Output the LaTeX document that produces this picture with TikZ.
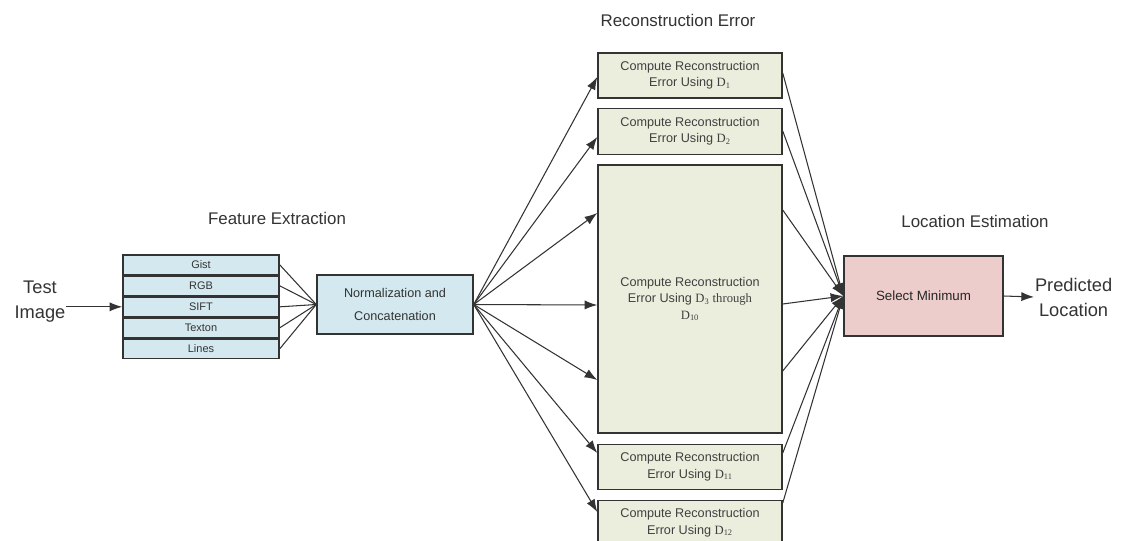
\documentclass[tikz,border=0pt]{standalone}
\usepackage{fontspec}
\setmainfont{Liberation Sans}
\newfontfamily\dfont{Liberation Serif}
\usepackage{xcolor}
\usepackage{tikz}
\usetikzlibrary{positioning,arrows.meta}

\definecolor{featblue}{HTML}{D3E9EF}
\definecolor{recgreen}{HTML}{EBEEDD}
\definecolor{minpink}{HTML}{EDCCCC}
\definecolor{edgegray}{HTML}{333333}

\newcommand{\Dsub}[1]{{\dfont D\textsubscript{#1}}}

\begin{document}
\begin{tikzpicture}[x=0.025cm, y=-0.025cm,
  featbox/.style={draw=edgegray, line width=1pt, fill=featblue, text=black!80,
    minimum width=3.9cm, minimum height=0.49cm, inner sep=0pt,
    font=\fontsize{7.8}{9}\selectfont},
  normbox/.style={draw=edgegray, line width=1pt, fill=featblue, text=black!80,
    minimum width=3.9cm, minimum height=1.475cm, align=center,
    font=\fontsize{9}{16}\selectfont},
  recbox/.style={draw=edgegray, line width=1pt, fill=recgreen, text=black!75,
    minimum width=4.6cm, align=center, inner sep=0pt,
    font=\fontsize{9}{11.6}\selectfont},
  minbox/.style={draw=edgegray, line width=1pt, fill=minpink, text=black!85,
    minimum width=3.975cm, minimum height=2cm,
    font=\fontsize{9.5}{11}\selectfont},
  title/.style={text=black!80, font=\fontsize{12}{14}\selectfont},
  endtext/.style={text=black!80, align=center, inner sep=0.5pt,
    font=\fontsize{13}{17.8}\selectfont},
  link/.style={draw=edgegray, line width=0.75pt},
  arr/.style={link, -{Latex[length=9pt,width=6.5pt]}}]
\useasboundingbox (0,0) rectangle (1123,540);

% titles
\node[title] (t-feat) at (277,218) {Feature Extraction};
\node[title] (t-rec) at (678,20) {Reconstruction Error};
\node[title] (t-loc) at (975,221) {Location Estimation};

% input and features
\node[endtext] (input) at (40,302) {Test\\Image};
\node[featbox] (gist) at (201,264.8) {Gist};
\node[featbox, below=0pt of gist] (rgb) {RGB};
\node[featbox, below=0pt of rgb] (sift) {SIFT};
\node[featbox, below=0pt of sift] (texton) {Texton};
\node[featbox, below=0pt of texton] (lines) {Lines};
\node[normbox] (norm) at (395,304.5) {Normalization and\\Concatenation};

% reconstruction error
\node[recbox, minimum height=1.125cm] (d1) at (690,75.5) {Compute Reconstruction\\Error Using \Dsub{1}};
\node[recbox, minimum height=1.15cm, below=0.225cm of d1] (d2) {Compute Reconstruction\\Error Using \Dsub{2}};
\node[recbox, minimum height=6.7cm, below=0.225cm of d2] (d3) {Compute Reconstruction\\Error Using {\dfont D\textsubscript{3} through}\\\Dsub{10}};
\node[recbox, minimum height=1.125cm, below=0.25cm of d3] (d11) {Compute Reconstruction\\Error Using \Dsub{11}};
\node[recbox, minimum height=1.1cm, below=0.25cm of d11] (d12) {Compute Reconstruction\\Error Using \Dsub{12}};

% location estimation
\node[minbox] (sel) at (923.5,296) {Select Minimum};
\node[endtext, anchor=west] (out) at (1034,297) {Predicted\\Location};

% connectors
\draw[arr] (input.east |- sift.west) -- (sift.west);
\foreach \f in {gist,rgb,sift,texton,lines}
  \draw[link] (\f.east) -- (norm.west);
\foreach \n/\y in {d1/77, d2/137, d3/213, d3/305, d3/380, d11/453, d12/512}
  \draw[arr] (norm.east) -- (\n.west |- 0,\y);
\foreach \n/\y in {d1/73, d2/131, d3/210, d3/304, d3/371, d11/453, d12/503}
  \draw[arr] (\n.east |- 0,\y) -- (sel.west);
\draw[arr] (sel.east) -- (out.west);
\end{tikzpicture}
\end{document}
